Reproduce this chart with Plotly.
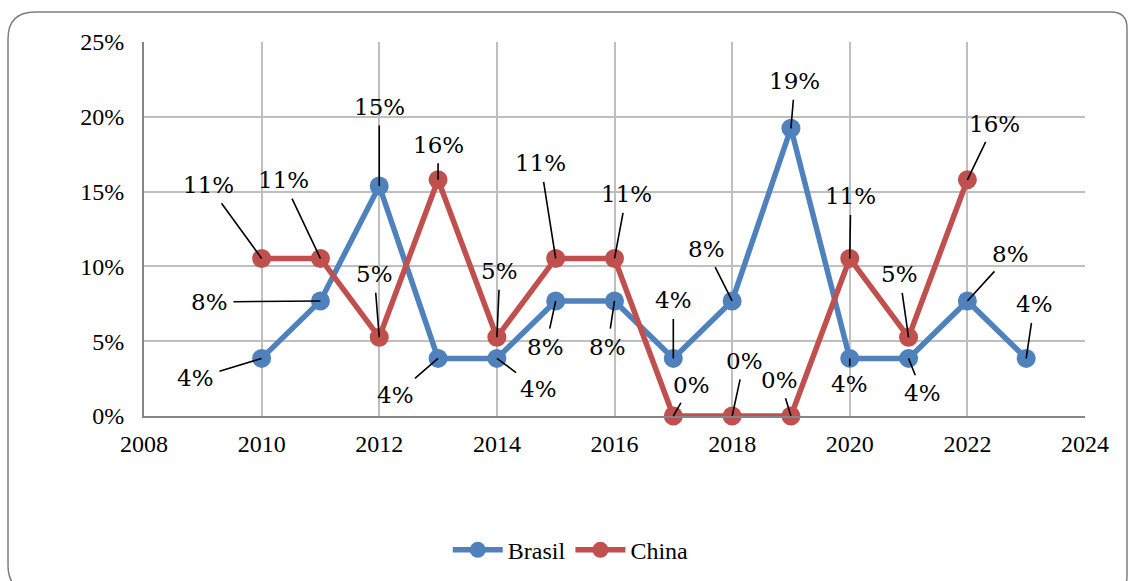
import plotly.graph_objects as go

years = [2010, 2011, 2012, 2013, 2014, 2015, 2016, 2017, 2018, 2019, 2020, 2021, 2022, 2023]
brasil = [0.0385, 0.0769, 0.1538, 0.0385, 0.0385, 0.0769, 0.0769, 0.0385, 0.0769, 0.1923, 0.0385, 0.0385, 0.0769, 0.0385]
china_years = [2010, 2011, 2012, 2013, 2014, 2015, 2016, 2017, 2018, 2019, 2020, 2021, 2022]
china = [0.1053, 0.1053, 0.0526, 0.1579, 0.0526, 0.1053, 0.1053, 0.0, 0.0, 0.0, 0.1053, 0.0526, 0.1579]

y_ticks = [0, 0.05, 0.10, 0.15, 0.20, 0.25]
y_tick_text = ["0%", "5%", "10%", "15%", "20%", "25%"]
x_ticks = [2008, 2010, 2012, 2014, 2016, 2018, 2020, 2022, 2024]

# label offsets (pixels) of data labels relative to their points
brasil_off = [(-66, 18), (-111, -1), (0, -81), (-43, 35), (42, 29), (-10, 44), (-7, 44),
              (0, -60), (-26, -54), (4, -49), (0, 24), (14, 33), (43, -49), (8, -56)]
china_off = [(-53, -75), (-37, -80), (-5, -65), (0, -37), (3, -68), (-15, -97), (12, -66),
             (18, -33), (12, -57), (-11, -38), (1, -64), (-9, -65), (27, -58)]

BLUE = "#4F81BD"
RED = "#C0504D"
SERIF = "Liberation Serif, Times New Roman, Times, serif"
TICK_FONT = dict(family=SERIF, size=24, color="#000000")
LABEL_FONT = dict(family="DejaVu Serif, serif", size=23, color="#000000")

fig = go.Figure()
fig.add_trace(go.Scatter(x=years, y=brasil, name="Brasil", mode="lines+markers", cliponaxis=False,
                         line=dict(color=BLUE, width=5.5), marker=dict(color=BLUE, size=19)))
fig.add_trace(go.Scatter(x=china_years, y=china, name="China", mode="lines+markers", cliponaxis=False,
                         line=dict(color=RED, width=5.5), marker=dict(color=RED, size=19)))

annotations = []
for xs, ys, offs in [(years, brasil, brasil_off), (china_years, china, china_off)]:
    for x, y, (dx, dy) in zip(xs, ys, offs):
        annotations.append(dict(x=x, y=y, xref="x", yref="y", text=f"{round(y*100)}%",
                                showarrow=True, arrowhead=0, arrowwidth=1.6, arrowcolor="#000000",
                                ax=dx, ay=dy + 2, standoff=0, startstandoff=4, font=LABEL_FONT))

# outer rounded border (paper coords)
L, R, T, B = 144, 1085, 42, 416
def px(xp):
    return (xp - L) / (R - L)
def py(yp):
    return (B - yp) / (B - T)
x0, x1, y0, y1 = 8, 1127, 12, 592
rl, rr = 27, 16
path = (f"M {px(x0)},{py(y0 + rl)} Q {px(x0)},{py(y0)} {px(x0 + rl)},{py(y0)} "
        f"L {px(x1 - rr)},{py(y0)} Q {px(x1)},{py(y0)} {px(x1)},{py(y0 + rr)} "
        f"L {px(x1)},{py(y1 - rr)} Q {px(x1)},{py(y1)} {px(x1 - rr)},{py(y1)} "
        f"L {px(x0 + rl)},{py(y1)} Q {px(x0)},{py(y1)} {px(x0)},{py(y1 - rl)} Z")

fig.update_layout(
    width=1128, height=581,
    margin=dict(l=L, r=1128 - R, t=T, b=581 - B),
    paper_bgcolor="white", plot_bgcolor="white",
    font=dict(family=SERIF),
    showlegend=True,
    legend=dict(orientation="h", xref="container", yref="container", x=0.506, y=0.053,
                xanchor="center", yanchor="middle", font=TICK_FONT, itemwidth=50,
                traceorder="normal"),
    annotations=annotations,
    shapes=[dict(type="path", path=path, xref="paper", yref="paper",
                 line=dict(color="#7F7F7F", width=1.5), layer="below")],
    xaxis=dict(range=[2008, 2024], tickvals=x_ticks, showgrid=True, gridcolor="#BFBFBF", gridwidth=1.5,
               showline=True, linecolor="#868686", linewidth=2, zeroline=False, ticks="",
               tickfont=TICK_FONT, ticklabelstandoff=5, fixedrange=True),
    yaxis=dict(range=[0, 0.25], tickvals=y_ticks, ticktext=y_tick_text, showgrid=True,
               gridcolor="#BFBFBF", gridwidth=1.5, showline=True, linecolor="#868686", linewidth=2,
               zeroline=False, ticks="", tickfont=TICK_FONT, ticklabelstandoff=13, fixedrange=True),
)

fig.write_html("out.html")
